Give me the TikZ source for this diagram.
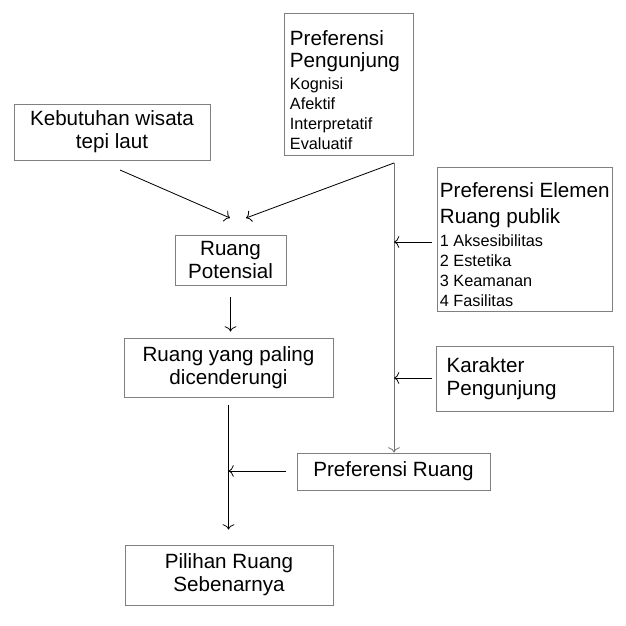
\documentclass[tikz,border=0pt]{standalone}
\usepackage{fontspec}
\setmainfont{Liberation Sans}
\usetikzlibrary{arrows.meta}
\newcommand{\bigf}{\fontsize{17.6}{19.8}\selectfont}
\newcommand{\smallf}{\fontsize{13.9}{17}\selectfont}
\begin{document}
\begin{tikzpicture}[x=0.03cm, y=-0.03cm, font=\bigf,
  box/.style={draw=black!50, line width=0.8pt, inner sep=0pt, align=center},
  listtext/.style={inner sep=0pt, align=flush left, anchor=north west, font=\smallf},
  >={To[length=4.5pt,width=10pt]}, line width=0.7pt]
\useasboundingbox (0,0) rectangle (626,626);
% kotak-kotak
\node[box, minimum width=5.88cm, minimum height=1.68cm] (keb) at (112,132) {Kebutuhan wisata\\tepi laut};
\node[box, minimum width=3.87cm, minimum height=4.26cm] (peng) at (348.5,84) {};
\node[listtext] (pengT) at (289.5,30)
  {\bigf Preferensi\\[2pt]\bigf Pengunjung\\[2pt]Kognisi\\Afektif\\Interpretatif\\Evaluatif};
\node[box, minimum width=3.33cm, minimum height=1.5cm] (pot) at (230.5,260) {Ruang\\Potensial};
\node[box, minimum width=6.27cm, minimum height=1.77cm] (pal) at (228.5,367.5) {Ruang yang paling\\dicenderungi};
\node[box, minimum width=5.25cm, minimum height=4.32cm] (elm) at (524.5,239) {};
\node[listtext] (elmT) at (439.5,182)
  {\bigf Preferensi Elemen\\[5pt]\bigf Ruang publik\\[3pt]1 Aksesibilitas\\2 Estetika\\3 Keamanan\\4 Fasilitas};
\node[box, align=flush left, inner xsep=9pt, minimum width=5.31cm, minimum height=1.95cm, text width=5.31cm-18pt] (kar) at (524.5,378.5)
  {Karakter\\Pengunjung};
\node[box, minimum width=5.79cm, minimum height=1.11cm] (prf) at (393.5,471.5) {Preferensi Ruang};
\node[box, minimum width=6.24cm, minimum height=1.8cm] (pil) at (229,575) {Pilihan Ruang\\Sebenarnya};
% titik bantu
\coordinate (k0) at (120,170);
\coordinate (inL) at (230,218);
\coordinate (inR) at (246,218);
\coordinate (top) at (394,163);
\coordinate (e0) at (432,242);
\coordinate (c0) at (432,378);
\coordinate (r0) at (286,471);
% panah
\draw[->] (k0) -- (inL);
\draw[->] (top) -- (inR);
\draw[->, black!55] (top) -- (top |- prf.north);
\draw[->] (e0) -- (e0 -| top);
\draw[->] (c0) -- (c0 -| top);
\draw[->, shorten <=0.36cm, shorten >=0.18cm] (pot.south) -- (pot.south |- pal.north);
\draw[->, shorten <=0.24cm, shorten >=0.45cm] (pal.south) -- (pal.south |- pil.north);
\draw[->] (r0) -- (r0 -| pal.south);
\end{tikzpicture}
\end{document}
